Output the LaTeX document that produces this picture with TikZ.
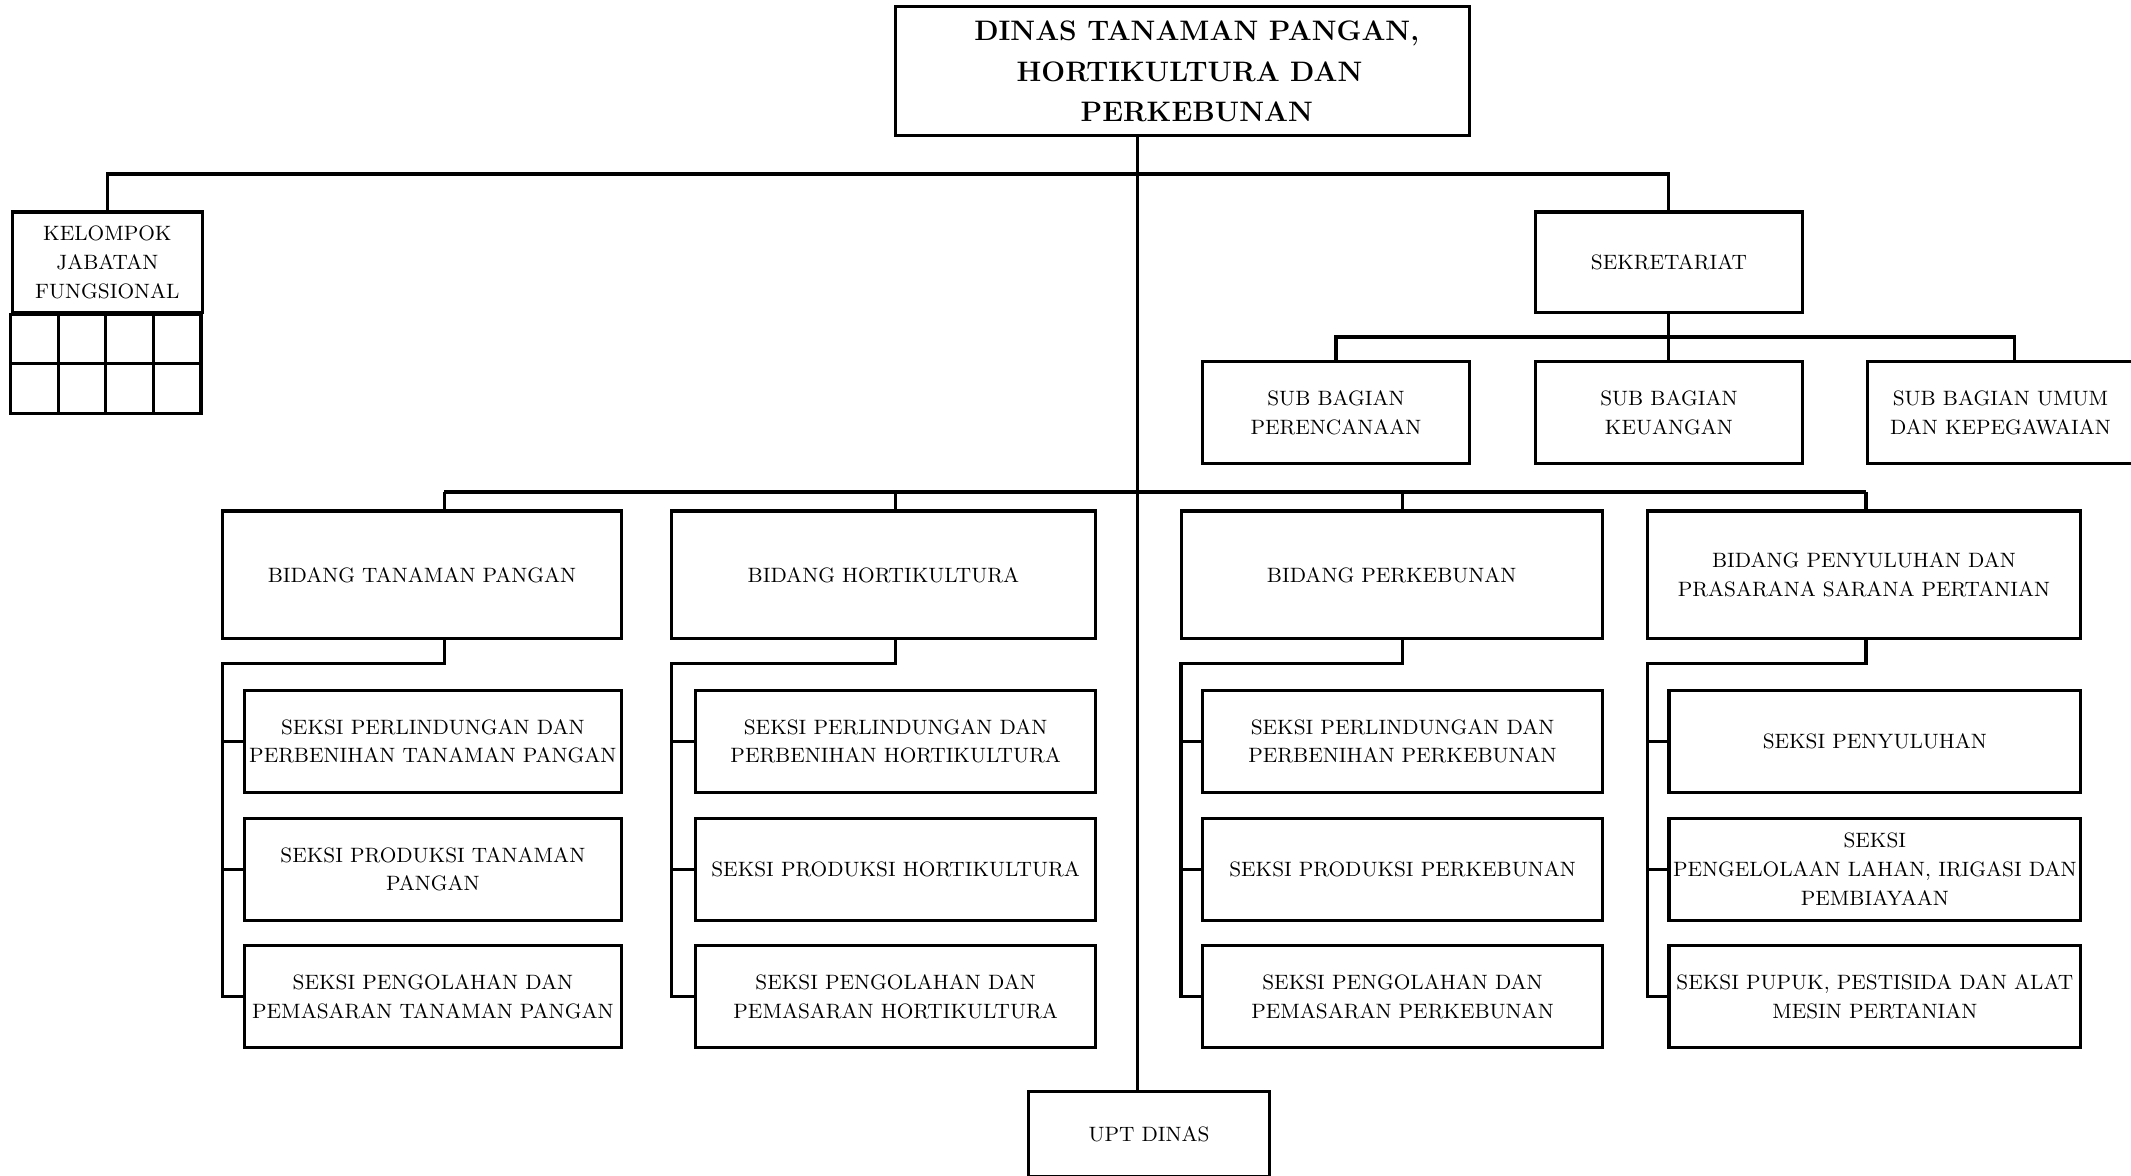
\documentclass[tikz,border=0pt]{standalone}
\usepackage{tikz}
\usetikzlibrary{calc}
\tikzset{box/.style={draw=black,line width=1.3pt,align=center,inner sep=0pt,font=\fontsize{8.7}{12}\selectfont},
  link/.style={black,line width=1.3pt}}

\begin{document}
\begin{tikzpicture}[x=0.02cm,y=-0.02cm]
\useasboundingbox (0,0) rectangle (1568,865);
%% kepala dinas
\node[box,minimum width=8.44cm,minimum height=1.9cm,font=\fontsize{11.8}{17}\selectfont\bfseries] (dinas) at (870,52.5) {\hspace*{12pt}DINAS TANAMAN PANGAN,\\\hspace*{6pt}HORTIKULTURA DAN\\\hspace*{12pt}PERKEBUNAN};
%% kelompok jabatan fungsional
\node[box,minimum width=2.8cm,minimum height=1.48cm] (kjf) at (79,193) {KELOMPOK\\JABATAN\\FUNGSIONAL};
\draw[link] (kjf.south west) rectangle ++(140,73);
\draw[link] (kjf.south west) ++(0,36.5) -- ++(140,0);
\foreach \gx in {35,70,105}
    \draw[link] (kjf.south west) ++(\gx,0) -- ++(0,73);
%% sekretariat
\node[box,minimum width=3.92cm,minimum height=1.48cm] (sek) at (1228,193) {SEKRETARIAT};
\node[box,minimum width=3.92cm,minimum height=1.5cm] (sbren) at (983,303.5) {SUB BAGIAN\\PERENCANAAN};
\node[box,minimum width=3.92cm,minimum height=1.5cm] (sbkeu) at (1228,303.5) {SUB BAGIAN\\KEUANGAN};
\node[box,minimum width=3.92cm,minimum height=1.5cm] (sbumum) at (1472,303.5) {SUB BAGIAN UMUM\\DAN KEPEGAWAIAN};
%% bidang
\node[box,minimum width=5.86cm,minimum height=1.88cm] (btp) at (310.5,423) {BIDANG TANAMAN PANGAN};
\node[box,minimum width=6.24cm,minimum height=1.88cm] (bhor) at (650,423) {BIDANG HORTIKULTURA};
\node[box,minimum width=6.2cm,minimum height=1.88cm] (bkeb) at (1024,423) {BIDANG PERKEBUNAN};
\node[box,minimum width=6.38cm,minimum height=1.88cm] (bpsp) at (1371.5,423) {BIDANG PENYULUHAN DAN\\PRASARANA SARANA PERTANIAN};
%% seksi
\node[box,minimum width=5.54cm,minimum height=1.5cm] (tp1) at (318.5,545.5) {SEKSI PERLINDUNGAN DAN\\PERBENIHAN TANAMAN PANGAN};
\node[box,minimum width=5.54cm,minimum height=1.5cm] (tp2) at (318.5,639.5) {SEKSI PRODUKSI TANAMAN\\PANGAN};
\node[box,minimum width=5.54cm,minimum height=1.5cm] (tp3) at (318.5,733.5) {SEKSI PENGOLAHAN DAN\\PEMASARAN TANAMAN PANGAN};
\node[box,minimum width=5.88cm,minimum height=1.5cm] (hor1) at (659,545.5) {SEKSI PERLINDUNGAN DAN\\PERBENIHAN HORTIKULTURA};
\node[box,minimum width=5.88cm,minimum height=1.5cm] (hor2) at (659,639.5) {SEKSI PRODUKSI HORTIKULTURA};
\node[box,minimum width=5.88cm,minimum height=1.5cm] (hor3) at (659,733.5) {SEKSI PENGOLAHAN DAN\\PEMASARAN HORTIKULTURA};
\node[box,minimum width=5.88cm,minimum height=1.5cm] (keb1) at (1032,545.5) {SEKSI PERLINDUNGAN DAN\\PERBENIHAN PERKEBUNAN};
\node[box,minimum width=5.88cm,minimum height=1.5cm] (keb2) at (1032,639.5) {SEKSI PRODUKSI PERKEBUNAN};
\node[box,minimum width=5.88cm,minimum height=1.5cm] (keb3) at (1032,733.5) {SEKSI PENGOLAHAN DAN\\PEMASARAN PERKEBUNAN};
\node[box,minimum width=6.06cm,minimum height=1.5cm] (psp1) at (1379.5,545.5) {SEKSI PENYULUHAN};
\node[box,minimum width=6.06cm,minimum height=1.5cm] (psp2) at (1379.5,639.5) {SEKSI\\PENGELOLAAN LAHAN, IRIGASI DAN\\PEMBIAYAAN};
\node[box,minimum width=6.06cm,minimum height=1.5cm] (psp3) at (1379.5,733.5) {SEKSI PUPUK, PESTISIDA DAN ALAT\\MESIN PERTANIAN};
%% upt
\node[box,minimum width=3.54cm,minimum height=1.26cm] (upt) at (845.5,834.5) {UPT DINAS};

%% garis komando
\coordinate (trunk) at (837,128);
\coordinate (sekj) at (1228,248);
\coordinate (umumj) at (1482,248);
\coordinate (tpj) at (327,362);
\coordinate (horj) at (659,362);
\coordinate (kebj) at (1032,362);
\coordinate (pspj) at (1373,362);
\draw[link] (dinas.south -| trunk) -- (upt.north -| trunk);
\draw[link] (kjf.north) |- (trunk) -| (sek.north);
\draw[link] (sek.south) -- (sekj) -- (sbkeu.north);
\draw[link] (sbren.north) |- (sekj) -- (umumj) -- (sbumum.north -| umumj);
\draw[link] (tpj) -- (pspj);
\foreach \b/\j/\s/\k in {btp/tpj/tp/164, bhor/horj/hor/494, bkeb/kebj/keb/869, bpsp/pspj/psp/1212}
{
    \coordinate (\s-k) at (\k,488);
    \draw[link] (\j) -- (\b.north -| \j);
    \draw[link] (\b.south -| \j) |- (\s-k) |- (\s3.west);
    \draw[link] (\s-k |- \s1.west) -- (\s1.west);
    \draw[link] (\s-k |- \s2.west) -- (\s2.west);
}
\end{tikzpicture}
\end{document}
